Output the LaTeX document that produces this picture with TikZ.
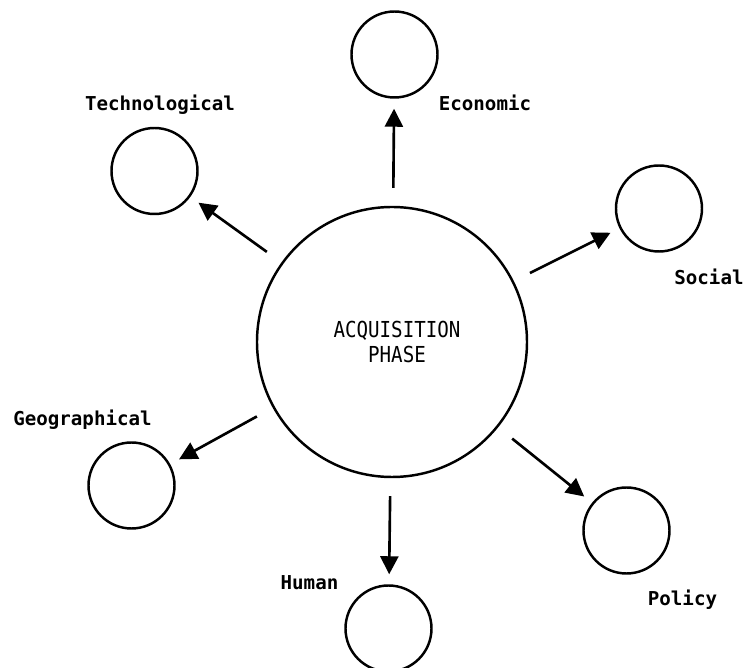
\documentclass[tikz,border=0pt]{standalone}
\usepackage{fontspec}
\setmonofont{DejaVu Sans Mono}
\usetikzlibrary{arrows.meta}
\begin{document}
\begin{tikzpicture}[
    hub/.style={draw,circle,line width=1.4pt,minimum size=5.4cm,inner sep=0pt},
    factor/.style={draw,circle,line width=1.4pt,minimum size=1.72cm,inner sep=0pt},
    tag/.style={font=\ttfamily\bfseries\fontsize{10.9}{12.6}\selectfont,align=center},
    hubtag/.style={font=\ttfamily\fontsize{10.9}{12.6}\selectfont,align=center,yscale=1.15},
    link/.style={line width=1.5pt,-{Triangle[length=0.36cm,width=0.36cm]},shorten <=0.36cm,shorten >=0.2cm}]
        \useasboundingbox (0,0) rectangle (14.88,13.36);

        \node[hub] (acq) at (7.84,6.52) {};
        \node[hubtag] (acqtext) at (7.94,6.52) {ACQUISITION\\PHASE};

        \node[factor] (tech) at (3.09,9.94) {};
        \node[factor] (econ) at (7.89,12.27) {};
        \node[factor] (soc) at (13.18,9.19) {};
        \node[factor] (geo) at (2.63,3.65) {};
        \node[factor] (hum) at (7.77,0.79) {};
        \node[factor] (pol) at (12.53,2.75) {};

        \node[tag] (techlbl) at (3.2,11.26) {Technological};
        \node[tag] (econlbl) at (9.7,11.3) {Economic};
        \node[tag] (soclbl) at (14.18,7.82) {Social};
        \node[tag] (geolbl) at (1.65,4.96) {Geographical};
        \node[tag] (humlbl) at (6.19,1.7) {Human};
        \node[tag] (pollbl) at (13.65,1.36) {Policy};

        \draw[link] (acq) -- (tech);
        \draw[link] (acq) -- (econ);
        \draw[link] (acq) -- (soc);
        \draw[link] (acq) -- (geo);
        \draw[link] (acq) -- (hum);
        \draw[link] (acq) -- (pol);
    \end{tikzpicture}
\end{document}
